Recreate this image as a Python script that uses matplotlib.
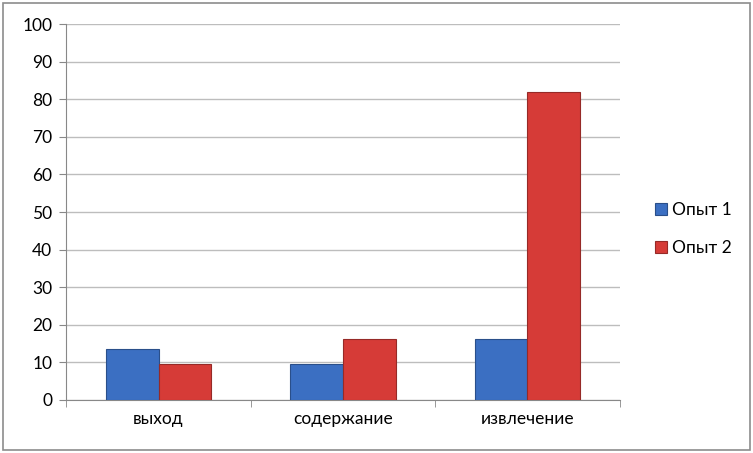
import numpy as np
import matplotlib.pyplot as plt
from matplotlib.patches import Rectangle

categories = ["выход", "содержание", "извлечение"]
opyt1 = [13.5, 9.7, 16.2]
opyt2 = [9.5, 16.3, 81.8]
series_names = ["Опыт 1", "Опыт 2"]

plt.rcParams['font.family'] = ['Lato', 'DejaVu Sans']

fig = plt.figure(figsize=(7.53, 4.53), dpi=100)
fig.patches.append(Rectangle((0.004, 0.006), 0.992, 0.988, transform=fig.transFigure,
                             fill=False, edgecolor='#8c8c8c', linewidth=1.2))
ax = fig.add_axes([0.088, 0.117, 0.735, 0.83])

x = np.arange(len(categories))
w = 0.285
b1 = ax.bar(x - w / 2, opyt1, w, color='#3b6fc2', edgecolor='#2a4f8a', linewidth=0.8,
            label=series_names[0], zorder=3)
b2 = ax.bar(x + w / 2, opyt2, w, color='#d63b37', edgecolor='#962a27', linewidth=0.8,
            label=series_names[1], zorder=3)

ax.set_ylim(0, 100)
ax.set_xlim(-0.5, 2.5)
ax.set_yticks(range(0, 101, 10))
ax.set_xticks(x)
ax.set_xticklabels(categories)
ax.set_xticks([-0.5, 0.5, 1.5, 2.5], minor=True)
ax.tick_params(axis='x', which='major', length=0, pad=8, labelsize=12.5)
ax.tick_params(axis='x', which='minor', length=5, color='#888888')
ax.tick_params(axis='y', length=5, color='#888888', labelsize=12.5, pad=5)
ax.grid(axis='y', color='#bdbdbd', linewidth=1, zorder=0)
for s in ['top', 'right']:
    ax.spines[s].set_visible(False)
for s in ['left', 'bottom']:
    ax.spines[s].set_color('#888888')

ax.legend(loc='center left', bbox_to_anchor=(1.035, 0.455), frameon=False,
          fontsize=12.5, handlelength=0.7, handleheight=0.7, labelspacing=1.25,
          handletextpad=0.3)

fig.savefig("out.png", dpi=100)
